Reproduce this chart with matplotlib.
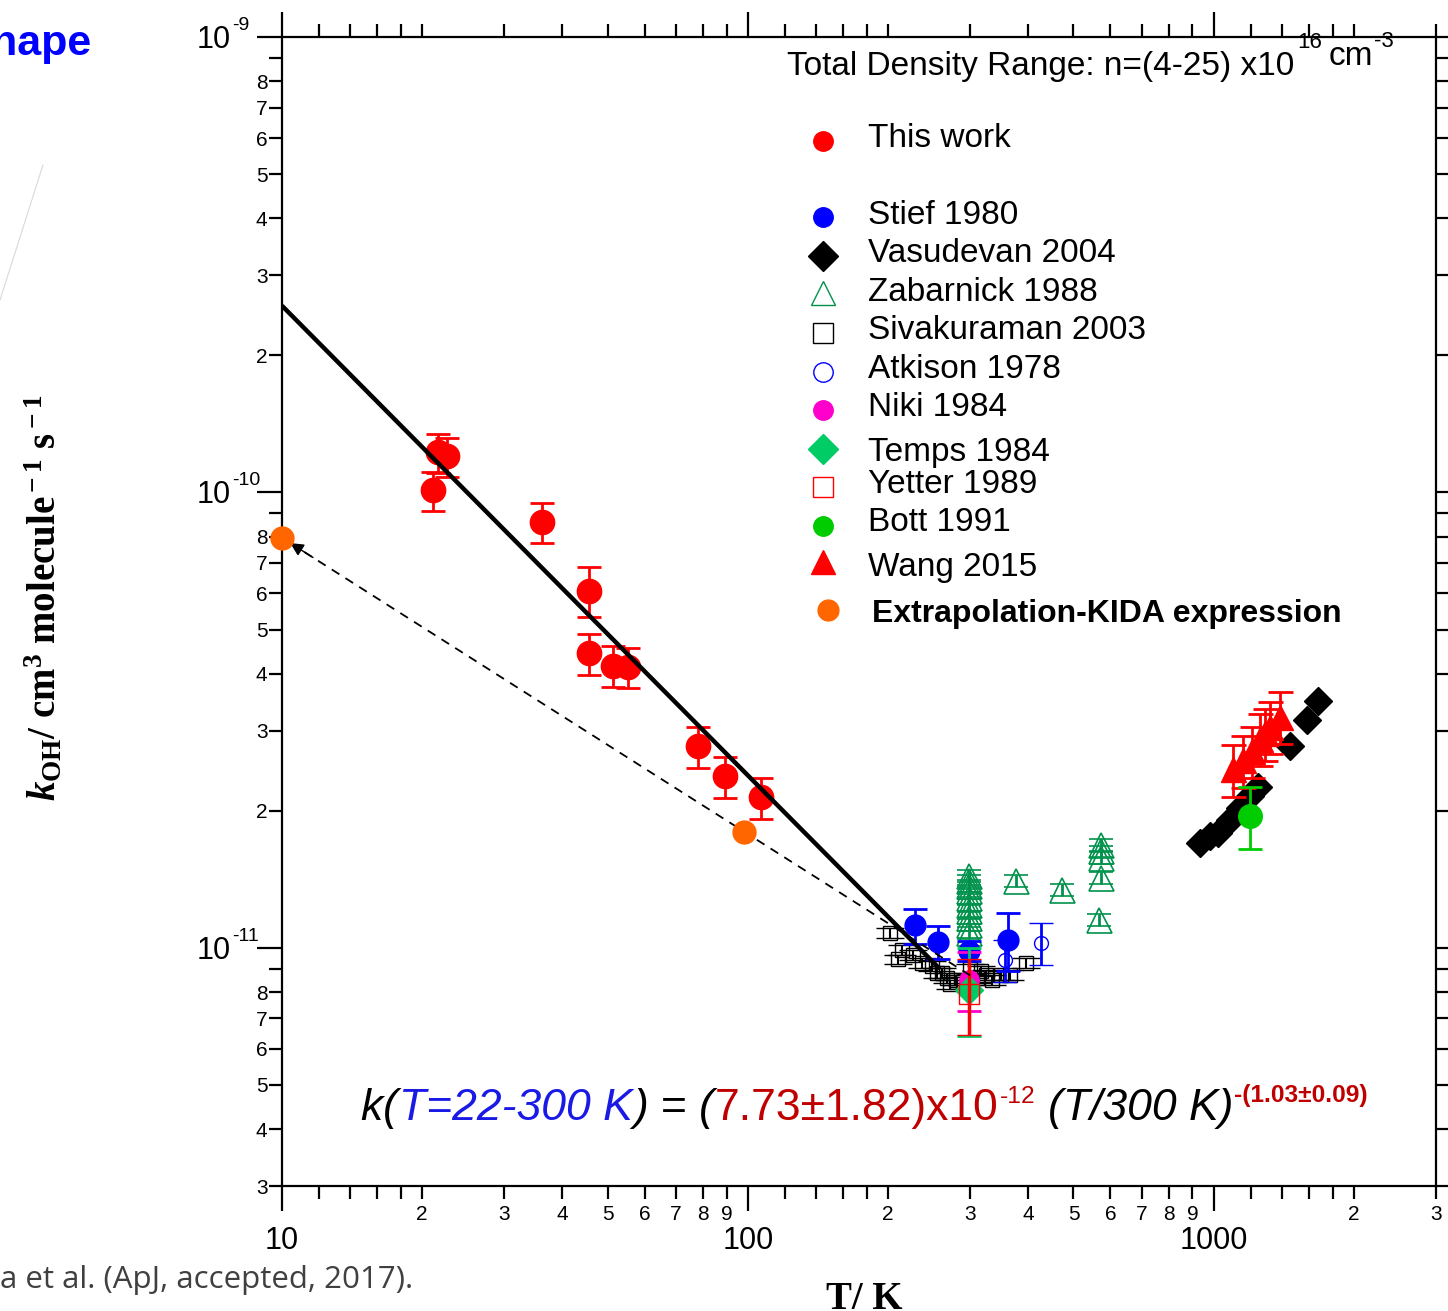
import numpy as np
import matplotlib
matplotlib.use('Agg')
import matplotlib.pyplot as plt
from matplotlib.ticker import FixedLocator, FuncFormatter, NullFormatter
from matplotlib.lines import Line2D

# ---------------- data ----------------
# This work (red filled circles)
this_T = [21.1, 21.6, 22.6, 36.2, 45.5, 45.5, 51.4, 55.4, 78.0, 89.3, 106.5]
this_k = [1.01e-10, 1.225e-10, 1.20e-10, 8.60e-11, 6.09e-11, 4.43e-11,
          4.16e-11, 4.14e-11, 2.77e-11, 2.38e-11, 2.14e-11]
this_err = [1.0e-11, 1.2e-11, 1.2e-11, 8.7e-12, 7.6e-12, 4.5e-12,
            4.3e-12, 4.2e-12, 2.9e-12, 2.5e-12, 2.2e-12]

# Stief 1980 (blue filled circles)
stief_T = [228, 256, 298, 361]
stief_k = [1.12e-11, 1.03e-11, 9.85e-12, 1.04e-11]
stief_err = [1.0e-12, 8.5e-13, 5.0e-13, 1.5e-12]

# Atkison 1978 (blue open circles)
atk_T = [356, 425]
atk_k = [9.4e-12, 1.025e-11]
atk_err = [1.0e-12, 1.1e-12]

# Zabarnick 1988 (green open triangles)
zab_T = [298, 298, 298, 298, 298, 298, 298, 298, 298, 298,
         377, 472, 572, 572, 572, 572, 566]
zab_k = [1.438e-11, 1.403e-11, 1.368e-11, 1.333e-11, 1.287e-11, 1.242e-11,
         1.205e-11, 1.163e-11, 1.123e-11, 1.078e-11,
         1.40e-11, 1.342e-11, 1.683e-11, 1.628e-11, 1.575e-11, 1.423e-11, 1.153e-11]
zab_rel_err = 0.03

# Sivakuraman 2003 (black open squares)
siva_T = [202, 210, 214, 226, 236, 248, 255, 261, 268, 271, 280, 290,
          300, 310, 317, 325, 335, 350, 365, 396]
siva_k = [1.08e-11, 9.43e-12, 9.9e-12, 9.67e-12, 9.27e-12, 9.12e-12, 8.8e-12,
          8.82e-12, 8.6e-12, 8.31e-12, 8.5e-12, 8.4e-12, 8.97e-12, 8.6e-12,
          8.89e-12, 8.74e-12, 8.5e-12, 8.7e-12, 8.74e-12, 9.27e-12]
siva_rel_err = 0.025

# Vasudevan 2004 (black diamonds)
vas_T = [933, 980, 1020, 1082, 1137, 1195, 1243, 1456, 1584, 1672]
vas_k = [1.70e-11, 1.76e-11, 1.79e-11, 1.91e-11, 2.03e-11, 2.16e-11,
         2.26e-11, 2.77e-11, 3.16e-11, 3.48e-11]

# Wang 2015 (red filled triangles)
wang_T = [1098, 1154, 1206, 1255, 1287, 1319, 1386]
wang_k = [2.47e-11, 2.58e-11, 2.71e-11, 2.88e-11, 2.96e-11, 3.06e-11, 3.22e-11]
wang_rel_err = 0.13

# Niki 1984, Temps 1984, Yetter 1989, Bott 1991
niki_T, niki_k, niki_err = [298], [8.52e-12], [1.25e-12]
temps_T, temps_k = [298], [8.1e-12]
temps_err_lo, temps_err_hi = [1.7e-12], [1.88e-12]
yet_T, yet_k, yet_err = [298], [7.93e-12], [1.5e-12]
bott_T = [1195]
bott_k = [1.95e-11]
bott_err = [3.0e-12]

# KIDA extrapolation (orange) and dashed extrapolation line
kida_T = [10, 98]
kida_k = [7.95e-11, 1.80e-11]
kida_line_T = [300, 10]
kida_line_k = [8.7e-12, 7.95e-11]

# Fit k = 7.73x10^-12 (T/300)^-1.03, drawn through its visible end points
fit_T = [10, 258]
fit_k = [2.57e-10, 9.0e-12]

# ---------------- style ----------------
plt.rcParams['font.family'] = ['Liberation Sans', 'DejaVu Sans']
plt.rcParams['mathtext.fontset'] = 'custom'
plt.rcParams['mathtext.rm'] = 'Liberation Serif:bold'
plt.rcParams['mathtext.it'] = 'Liberation Serif:italic:bold'
plt.rcParams['mathtext.bf'] = 'Liberation Serif:bold'

RED = '#FF0000'
BLUE = '#0000FF'
ZGREEN = '#00924C'
TGREEN = '#00CC66'
BGREEN = '#00CC00'
MAG = '#FF00CC'
ORANGE = '#FF6600'
DRED = '#C00000'
EBLUE = '#1A1AE6'

W, H = 1448, 1311
fig = plt.figure(figsize=(W / 100, H / 100), dpi=100)
L, R, T, B = 282, 1436, 37, 1186
ax = fig.add_axes([L / W, 1 - B / H, (R - L) / W, (B - T) / H])
ax.set_xscale('log')
ax.set_yscale('log')
ax.set_xlim(10, 3000)
ax.set_ylim(3e-12, 1e-9)


def P(px, py):
    return (px / W, 1 - py / H)


# ---------------- data marks ----------------
ax.errorbar(siva_T, siva_k, yerr=[v * siva_rel_err for v in siva_k], fmt='s', ms=10,
            mfc='none', mec='k', mew=1.0, ecolor='k', elinewidth=1.5,
            capsize=10, capthick=1.5, zorder=3)
ax.errorbar(zab_T, zab_k, yerr=[v * zab_rel_err for v in zab_k], fmt='^', ms=18,
            mfc='none', mec=ZGREEN, mew=1.2, ecolor=ZGREEN, elinewidth=2,
            capsize=8.5, capthick=2, zorder=3)
ax.errorbar(stief_T, stief_k, yerr=stief_err, fmt='o', ms=15, color=BLUE,
            ecolor=BLUE, elinewidth=2, capsize=8.5, capthick=2, zorder=4)
ax.errorbar(atk_T, atk_k, yerr=atk_err, fmt='o', ms=10, mfc='none', mec=BLUE,
            mew=1.0, ecolor=BLUE, elinewidth=2, capsize=8.5, capthick=2, zorder=4)
ax.plot(vas_T, vas_k, 'D', ms=14, color='k', zorder=4)
ax.errorbar(niki_T, niki_k, yerr=niki_err, fmt='o', ms=14, color=MAG,
            ecolor=MAG, elinewidth=2, capsize=8.5, capthick=2, zorder=5)
ax.errorbar(temps_T, temps_k, yerr=[temps_err_lo, temps_err_hi], fmt='D', ms=14,
            color=TGREEN, ecolor=TGREEN, elinewidth=2, capsize=8.5, capthick=2, zorder=5)
ax.errorbar(bott_T, bott_k, yerr=bott_err, fmt='o', ms=17, color=BGREEN,
            ecolor=BGREEN, elinewidth=2, capsize=8.5, capthick=2, zorder=6)
ax.errorbar(yet_T, yet_k, yerr=yet_err, fmt='s', ms=14, mfc='none', mec=RED,
            mew=1.0, ecolor=RED, elinewidth=2.5, capsize=8.5, capthick=2.5, zorder=6)
ax.errorbar(wang_T, wang_k, yerr=[v * wang_rel_err for v in wang_k], fmt='^', ms=18,
            color=RED, ecolor=RED, elinewidth=2, capsize=9, capthick=2, zorder=5)
ax.errorbar(this_T, this_k, yerr=this_err, fmt='o', ms=17.5, color=RED,
            ecolor=RED, elinewidth=2, capsize=8.7, capthick=2, zorder=6)
ax.plot(fit_T, fit_k, '-', color='k', lw=3.2, zorder=7, solid_capstyle='butt')
ax.plot(kida_line_T, kida_line_k, color='k', lw=1.3, ls=(0, (5, 4)), zorder=7)

# arrow head at the 10 K end of the extrapolation line
lt = np.log10(kida_line_T)
lk = np.log10(kida_line_k)


def along(f):
    return 10 ** (lt[0] + f * (lt[1] - lt[0])), 10 ** (lk[0] + f * (lk[1] - lk[0]))


ax.annotate('', xy=along(0.988), xytext=along(0.955),
            arrowprops=dict(arrowstyle='-|>', color='k', lw=1.0,
                            mutation_scale=20, shrinkA=0, shrinkB=0), zorder=8)
ax.plot(kida_T, kida_k, 'o', ms=16.5, color=ORANGE, zorder=9, clip_on=False)

# ---------------- axes / ticks ----------------
for s in ax.spines.values():
    s.set_linewidth(1.6)

x_major = [10, 100, 1000]
x_minor = [12, 14, 16, 18, 20, 30, 40, 50, 60, 70, 80, 90,
           120, 140, 160, 180, 200, 300, 400, 500, 600, 700, 800, 900,
           1200, 1400, 1600, 1800, 2000, 3000]
ax.xaxis.set_major_locator(FixedLocator(x_major))
ax.xaxis.set_minor_locator(FixedLocator(x_minor))
ax.xaxis.set_major_formatter(FuncFormatter(lambda v, p: '%d' % round(v)))


def mant(v):
    e = np.floor(np.log10(v) + 1e-9)
    return v / 10 ** e


def xminor_fmt(v, p):
    m = mant(v)
    if abs(m - round(m)) < 1e-6 and 2 <= round(m) <= 9:
        return '%d' % round(m)
    return ''


ax.xaxis.set_minor_formatter(FuncFormatter(xminor_fmt))

y_major = [1e-11, 1e-10, 1e-9]
y_minor = [m * 10.0 ** d for d in (-12, -11, -10) for m in range(2, 10)
           if 2.99e-12 <= m * 10.0 ** d <= 1e-9]
ax.yaxis.set_major_locator(FixedLocator(y_major))
ax.yaxis.set_minor_locator(FixedLocator(y_minor))
ax.yaxis.set_major_formatter(NullFormatter())


def yminor_fmt(v, p):
    m = mant(v)
    if abs(m - round(m)) < 1e-6 and 2 <= round(m) <= 8:
        return '%d' % round(m)
    return ''


ax.yaxis.set_minor_formatter(FuncFormatter(yminor_fmt))

ax.tick_params(which='both', direction='out', top=True, right=True,
               labeltop=False, labelright=False, width=1.6, color='k')
ax.tick_params(which='major', length=18)
ax.tick_params(which='minor', length=9.5)
ax.tick_params(axis='x', which='major', labelsize=22, pad=11)
ax.tick_params(axis='x', which='minor', labelsize=15, pad=4.5)
ax.tick_params(axis='y', which='minor', labelsize=15, pad=1)

# manual major y labels 10^n
fig.canvas.draw()
for v, e in zip(y_major, ['-11', '-10', '-9']):
    _, ydisp = ax.transData.transform((10, v))
    py = H - ydisp
    fig.text(231 / W, 1 - (py + 11) / H, '10', fontsize=22, ha='right', va='baseline')
    fig.text(232 / W, 1 - (py - 7) / H, e, fontsize=14, ha='left', va='baseline')

# axis labels
fig.text(45 / W, 1 - 598 / H,
         r'$k_{\rm OH}$/ cm$^{\rm 3}$ molecule$^{\rm -1}$ s$^{\rm -1}$',
         rotation=90, fontsize=28, fontweight='bold', family='Liberation Serif',
         ha='center', va='center')
fig.text(864 / W, 1 - 1309 / H, 'T/ K', fontsize=28, fontweight='bold',
         family='Liberation Serif', ha='center', va='baseline')

# ---------------- header text ----------------
fig.text(*P(787, 75), 'Total Density Range: n=(4-25) x10', fontsize=24, va='baseline')
fig.text(*P(1297, 48), '16', fontsize=16, va='baseline')
fig.text(*P(1329, 65), 'cm', fontsize=24, va='baseline')
fig.text(*P(1374, 47), '-3', fontsize=16, va='baseline')

# ---------------- manual legend ----------------
leg = [
    ('This work', dict(marker='o', ms=14, color=RED), 141, 147, False),
    ('Stief 1980', dict(marker='o', ms=14, color=BLUE), 217, 224, False),
    ('Vasudevan 2004', dict(marker='D', ms=15, color='k'), 256, 262, False),
    ('Zabarnick 1988', dict(marker='^', ms=17, mfc='none', mec=ZGREEN, mew=1.0), 293, 301, False),
    ('Sivakuraman 2003', dict(marker='s', ms=14, mfc='none', mec='k', mew=1.0), 333, 339, False),
    ('Atkison 1978', dict(marker='o', ms=14, mfc='none', mec=BLUE, mew=1.0), 372, 378, False),
    ('Niki 1984', dict(marker='o', ms=14, color=MAG), 410, 416, False),
    ('Temps 1984', dict(marker='D', ms=15, color=TGREEN), 449, 461, False),
    ('Yetter 1989', dict(marker='s', ms=14, mfc='none', mec=RED, mew=1.0), 487, 493, False),
    ('Bott 1991', dict(marker='o', ms=14, color=BGREEN), 526, 531, False),
    ('Wang 2015', dict(marker='^', ms=17, color=RED), 562, 576, False),
    ('Extrapolation-KIDA expression', dict(marker='o', ms=15, color=ORANGE), 610, 622, True),
]
for label, mk, my, ty, bold in leg:
    mx = 828 if bold else 823
    tx = 872 if bold else 868
    fig.add_artist(Line2D([mx / W], [1 - my / H], linestyle='none', **mk))
    fig.text(tx / W, 1 - ty / H, label, fontsize=23 if bold else 24,
             fontweight='bold' if bold else 'normal', va='baseline')

# ---------------- equation ----------------
renderer = fig.canvas.get_renderer()
# (text, color, italic, bold, size factor, rise px, gap before in em)
eq_pieces = [
    ('k', 'k', True, False, 1.0, 0, 0.0),
    ('(', 'k', True, False, 1.0, 0, 0.02),
    ('T=22-300 K', EBLUE, True, False, 1.0, 0, 0.02),
    (')', 'k', True, False, 1.0, 0, 0.02),
    ('=', 'k', False, False, 1.0, 0, 0.28),
    ('(', 'k', True, False, 1.0, 0, 0.28),
    ('7.73\u00b11.82)x10', DRED, False, False, 1.0, 0, 0.02),
    ('-12', DRED, False, False, 0.55, 17, 0.02),
    ('(T/300 K)', 'k', True, False, 1.0, 0, 0.28),
    ('-(1.03\u00b10.09)', DRED, False, True, 0.55, 18, 0.02),
]


def draw_eq(size, x0, base):
    arts = []
    x = x0
    for txt, col, it, bd, sf, rise, gap in eq_pieces:
        x += gap * size * 100 / 72
        t = fig.text(x / W, 1 - (base - rise) / H, txt, color=col,
                     fontsize=size * sf, style='italic' if it else 'normal',
                     fontweight='bold' if bd else 'normal', va='baseline', ha='left')
        w = t.get_window_extent(renderer).width
        x += w
        arts.append(t)
    return arts, x - x0


arts, width = draw_eq(32, 360, 1120)
for a in arts:
    a.remove()
draw_eq(32 * 1008 / width, 360, 1120)

# ---------------- slide fragments ----------------
fig.text(-9 / W, 1 - 55 / H, 'hape', fontsize=31, fontweight='bold', color=BLUE,
         va='baseline', ha='left')
fig.text(0, 1 - 1288 / H, 'a et al. (ApJ, accepted, 2017).', fontsize=22.5,
         family=['Open Sans', 'DejaVu Sans'], color='#404040', va='baseline', ha='left')
fig.add_artist(Line2D([43 / W, 0], [1 - 165 / H, 1 - 300 / H], color='#d9d9d9', lw=0.8))

fig.savefig('out.png', dpi=100)
